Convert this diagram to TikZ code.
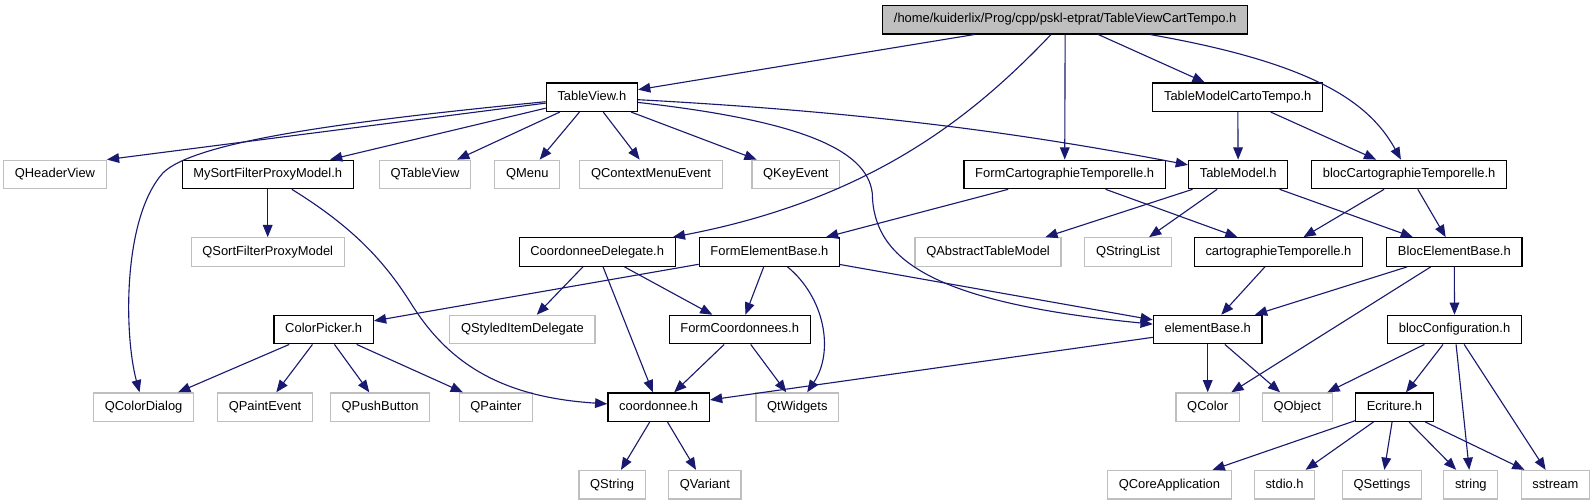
\documentclass[tikz,border=0pt]{standalone}
\usepackage{fontspec}
\setmainfont{Liberation Sans}
\usetikzlibrary{arrows.meta}
\definecolor{edgec}{HTML}{191970}
\definecolor{extc}{HTML}{BFBFBF}
\begin{document}
\begin{tikzpicture}[x=1pt,y=-1pt,
  base/.style={rectangle, minimum height=28pt, inner xsep=11pt, inner ysep=0pt,
    font=\fontsize{12.7}{14}\selectfont, text height=9.1pt, text depth=2.6pt, line width=1.2pt},
  intn/.style={base, draw=black, fill=white},
  extn/.style={base, draw=extc, fill=white},
  rootn/.style={base, draw=black, fill=extc},
  dep/.style={draw=edgec, line width=1.1pt, -{Triangle[length=12pt,width=9.5pt]}}]
\useasboundingbox (0,0) rectangle (1568,495);
% row 0
\node[rootn] (root) at (1046.5,19.3) {/home/kuiderlix/Prog/cpp/pskl-etprat/TableViewCartTempo.h};
% row 1
\node[intn] (tv) at (581.5,95.5) {TableView.h};
\node[intn] (tmct) at (1216,95.5) {TableModelCartoTempo.h};
% row 2
\node[extn] (qhv) at (54,171.4) {QHeaderView};
\node[intn] (msfpm) at (263,171.4) {MySortFilterProxyModel.h};
\node[extn] (qtv) at (417.6,171.4) {QTableView};
\node[extn] (qmenu) at (518,171.4) {QMenu};
\node[extn] (qcme) at (639.6,171.4) {QContextMenuEvent};
\node[extn] (qke) at (781.9,171.4) {QKeyEvent};
\node[intn] (fct) at (1046,171.4) {FormCartographieTemporelle.h};
\node[intn] (tm) at (1216.5,171.4) {TableModel.h};
\node[intn] (bct) at (1384.4,171.4) {blocCartographieTemporelle.h};
% row 3
\node[extn] (qsfpm) at (263,247.6) {QSortFilterProxyModel};
\node[intn] (cd) at (586.7,247.6) {CoordonneeDelegate.h};
\node[intn] (feb) at (755.9,247.6) {FormElementBase.h};
\node[extn] (qatm) at (970.7,247.6) {QAbstractTableModel};
\node[extn] (qsl) at (1108.2,247.6) {QStringList};
\node[intn] (ct) at (1256,247.6) {cartographieTemporelle.h};
\node[intn] (beb) at (1428.8,247.6) {BlocElementBase.h};
% row 4
\node[intn] (cp) at (318,323.8) {ColorPicker.h};
\node[extn] (qsid) at (513.3,323.8) {QStyledItemDelegate};
\node[intn] (fc) at (726.7,323.8) {FormCoordonnees.h};
\node[intn] (eb) at (1186.5,323.8) {elementBase.h};
\node[intn] (bc) at (1429,323.8) {blocConfiguration.h};
% row 5
\node[extn] (qcd) at (141.1,400) {QColorDialog};
\node[extn] (qpe) at (260.4,400) {QPaintEvent};
\node[extn] (qpb) at (373.4,400) {QPushButton};
\node[extn] (qp) at (487.2,400) {QPainter};
\node[intn] (co) at (647.1,400) {coordonnee.h};
\node[extn] (qtw) at (783.3,400) {QtWidgets};
\node[extn] (qc) at (1186.5,400) {QColor};
\node[extn] (qo) at (1274.5,400) {QObject};
\node[intn] (ec) at (1370,400) {Ecriture.h};
% row 6
\node[extn] (qs) at (601.3,476.2) {QString};
\node[extn] (qv) at (692.5,476.2) {QVariant};
\node[extn] (qca) at (1148.9,476.2) {QCoreApplication};
\node[extn] (stdio) at (1262,476.2) {stdio.h};
\node[extn] (qset) at (1357.7,476.2) {QSettings};
\node[extn] (str) at (1445,476.2) {string};
\node[extn] (sst) at (1528,476.2) {sstream};
% edges from root
\draw[dep] (root) -- (tv);
\draw[dep] (root) .. controls (960,110) and (860,195) .. ([xshift=-3pt]cd.north east);
\draw[dep] (root) -- (fct);
\draw[dep] (root) -- (tmct);
\draw[dep] (root) .. controls (1290,62) and (1345,100) .. (bct);
% TableView
\draw[dep] (tv) -- (qhv.north east);
\draw[dep] (tv) .. controls (330,120) and (190,140) .. (160,170) .. controls (120,215) and (122,330) .. (qcd);
\draw[dep] (tv) -- (msfpm);
\draw[dep] (tv) -- (qtv);
\draw[dep] (tv) -- (qmenu);
\draw[dep] (tv) -- (qcme);
\draw[dep] (tv) -- (qke);
\draw[dep] (tv) .. controls (850,110) and (1000,130) .. (tm);
\draw[dep] (tv) .. controls (780,118) and (852,145) .. (857,190) .. controls (858,255) and (915,297) .. (eb);
% TableModelCartoTempo
\draw[dep] (tmct) -- (tm);
\draw[dep] (tmct) -- (bct);
% MySortFilterProxyModel
\draw[dep] (msfpm) -- (qsfpm);
\draw[dep] (msfpm) .. controls (350,225) and (380,260) .. (405,300) .. controls (440,355) and (490,390) .. (co);
% FormCartographieTemporelle
\draw[dep] (fct) -- (feb);
\draw[dep] (fct) -- (ct);
% TableModel
\draw[dep] (tm) -- ([xshift=-16pt]qatm.north east);
\draw[dep] (tm) -- (qsl);
\draw[dep] (tm) -- (beb);
% blocCartographieTemporelle
\draw[dep] (bct) -- (ct);
\draw[dep] (bct) -- (beb);
% CoordonneeDelegate
\draw[dep] (cd) -- (qsid);
\draw[dep] (cd) -- (co);
\draw[dep] (cd) -- (fc);
% FormElementBase
\draw[dep] (feb) -- (cp);
\draw[dep] (feb) -- (fc);
\draw[dep] (feb) .. controls (810,292) and (820,345) .. (qtw);
\draw[dep] (feb) -- (eb);
% cartographieTemporelle
\draw[dep] (ct) -- (eb);
% BlocElementBase
\draw[dep] (beb) -- (eb);
\draw[dep] (beb) -- (qc);
\draw[dep] (beb) -- (bc);
% ColorPicker
\draw[dep] (cp) -- (qcd);
\draw[dep] (cp) -- (qpe);
\draw[dep] (cp) -- (qpb);
\draw[dep] (cp) -- (qp);
% FormCoordonnees
\draw[dep] (fc) -- (co);
\draw[dep] (fc) -- (qtw);
% elementBase
\draw[dep] (eb) -- (co);
\draw[dep] (eb) -- (qc);
\draw[dep] (eb) -- (qo);
% blocConfiguration
\draw[dep] (bc) -- (qo);
\draw[dep] (bc) -- (ec);
\draw[dep] (bc) -- (str);
\draw[dep] (bc) -- (sst);
% Ecriture
\draw[dep] (ec) -- (qca);
\draw[dep] (ec) -- (stdio);
\draw[dep] (ec) -- (qset);
\draw[dep] (ec) -- (str);
\draw[dep] (ec) -- (sst);
% coordonnee
\draw[dep] (co) -- (qs);
\draw[dep] (co) -- (qv);
\end{tikzpicture}
\end{document}
